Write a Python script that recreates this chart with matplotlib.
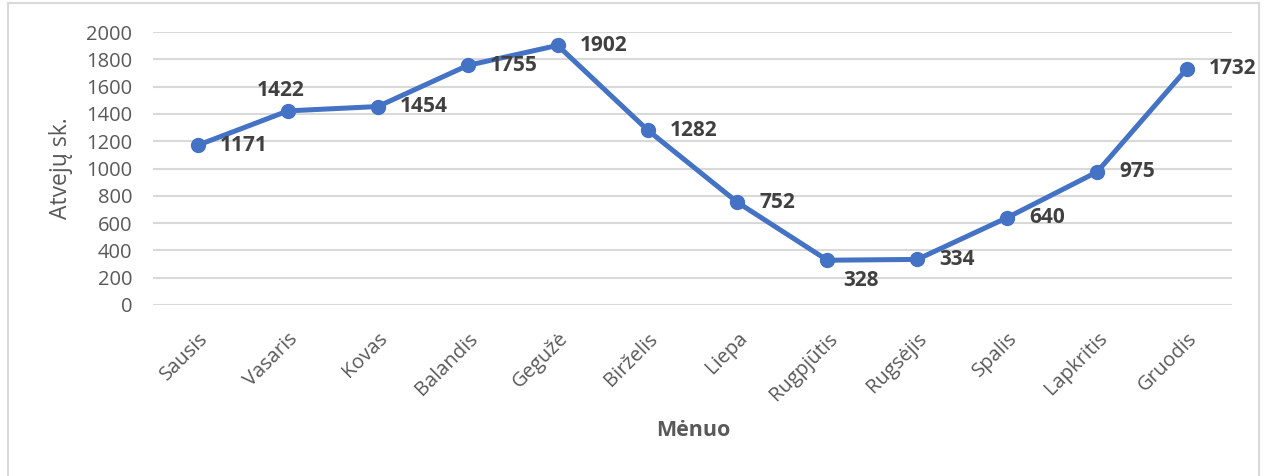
import matplotlib
matplotlib.use("Agg")
import matplotlib.pyplot as plt
from matplotlib.patches import Rectangle

months = ["Sausis", "Vasaris", "Kovas", "Balandis", "Gegužė", "Birželis", "Liepa",
          "Rugpjūtis", "Rugsėjis", "Spalis", "Lapkritis", "Gruodis"]
values = [1171, 1422, 1454, 1755, 1902, 1282, 752, 328, 334, 640, 975, 1732]
label_pos = ["r", "t", "r", "r", "r", "r", "r", "b", "r", "r", "r", "r"]
yticks = list(range(0, 2001, 200))

plt.rcParams['font.family'] = ['Open Sans', 'DejaVu Sans']

W, H = 1265, 476
fig = plt.figure(figsize=(W / 100, H / 100), dpi=100)
fig.patches.append(Rectangle((8 / W, -0.01), 1251 / W, 1.01 - 3 / H, transform=fig.transFigure,
                             fill=False, edgecolor='#d9d9d9', linewidth=1.5))
ax = fig.add_axes([153 / W, 1 - 305 / H, 1079 / W, 273 / H])

x = list(range(len(months)))
ax.plot(x, values, color='#4472C4', linewidth=3.6, marker='o', markersize=10, zorder=3,
        solid_capstyle='round')

ax.set_xlim(-0.5, len(months) - 0.5)
ax.set_ylim(0, 2000)
ax.set_yticks(yticks)
ax.set_yticklabels([str(t) for t in yticks], fontsize=14.5, color='#595959')
ax.grid(axis='y', color='#d9d9d9', linewidth=1.5)
ax.set_axisbelow(True)
for s in ax.spines.values():
    s.set_visible(False)
ax.tick_params(axis='both', length=0)
ax.tick_params(axis='y', pad=15)
ax.set_xticks(x)
ax.set_xticklabels(months, rotation=45, ha='right', rotation_mode='anchor', fontsize=14.5,
                   color='#595959')
ax.tick_params(axis='x', pad=17)

ax.set_ylabel("Atvejų sk.", fontsize=16.5, color='#595959')
ax.yaxis.set_label_coords(-80 / 1079, 0.5)
ax.set_xlabel("Mėnuo", fontsize=15.5, color='#595959', fontweight='bold')
ax.xaxis.set_label_coords((693 - 153) / 1079, -(431 - 305) / 273)
ax.xaxis.label.set_va('center')

offsets = {"r": (16, 0, 'left', 'center'), "t": (-5, 15, 'center', 'center'),
           "b": (24, -14.5, 'center', 'center')}
for xi, v, p in zip(x, values, label_pos):
    dx, dy, ha, va = offsets[p]
    ax.annotate(str(v), (xi, v), xytext=(dx, dy), textcoords='offset points', ha=ha, va=va,
                fontsize=15, fontweight='bold', color='#404040', annotation_clip=False)

fig.savefig("out.png", dpi=100)
